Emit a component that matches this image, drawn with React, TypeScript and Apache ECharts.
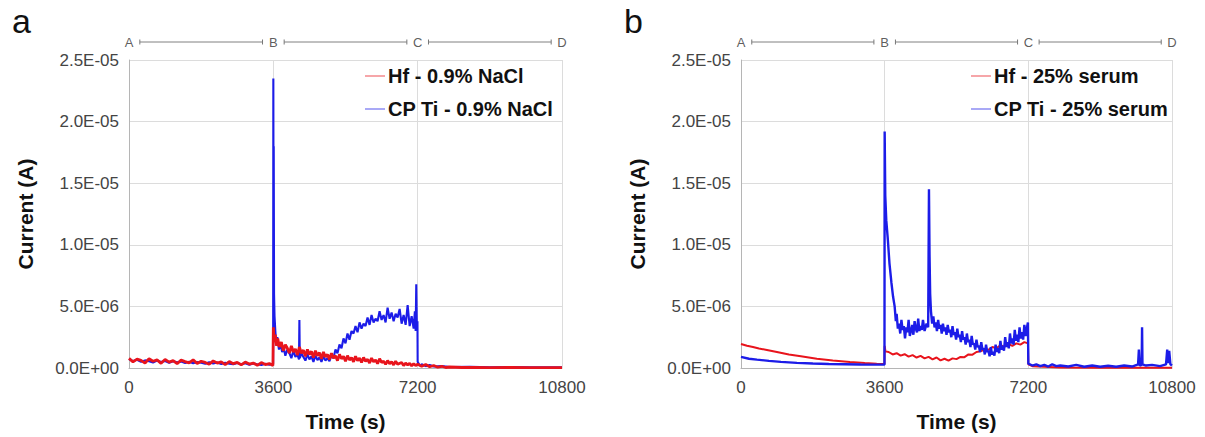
import React, { useEffect, useRef } from "react";
import * as echarts from "echarts";

// ---------- data (current in µA, time in s) ----------
const X_TICK_LABELS = ["0", "3600", "7200", "10800"];
const Y_TICK_LABELS = ["0.0E+00", "5.0E-06", "1.0E-05", "1.5E-05", "2.0E-05", "2.5E-05"];
const STEP_LABELS = ["A", "B", "C", "D"];
const STEP_TIMES = [0, 3600, 7200, 10800];
const STEP_SEGMENTS: [number, number][] = [[270, 3330], [3870, 6930], [7470, 10530]];

const NAMES_A = ["Hf - 0.9% NaCl", "CP Ti - 0.9% NaCl"];
const NAMES_B = ["Hf - 25% serum", "CP Ti - 25% serum"];

const HF_NACL: [number, number][] = [
  [0,0.78],[100,0.5],[200,0.72],[300,0.62],[400,0.4],[500,0.75],[600,0.55],[700,0.66],[800,0.38],[900,0.7],
  [1000,0.48],[1100,0.6],[1200,0.35],[1300,0.64],[1400,0.52],[1500,0.42],[1600,0.66],[1700,0.36],[1800,0.55],
  [1900,0.45],[2000,0.3],[2100,0.58],[2200,0.4],[2300,0.5],[2400,0.28],[2500,0.52],[2600,0.35],[2700,0.45],
  [2800,0.25],[2900,0.48],[3000,0.32],[3100,0.4],[3200,0.22],[3300,0.44],[3400,0.28],[3500,0.36],[3590,0.2],
  [3600,3.3],[3620,2.1],[3650,2.7],[3680,1.8],[3710,2.4],[3750,1.7],[3800,2.1],[3850,1.4],[3900,1.9],[3950,1.6],
  [4000,1.2],[4050,1.8],[4100,1.3],[4150,1.55],[4200,1.05],[4250,1.7],[4300,1.2],[4350,1.45],[4400,0.95],[4450,1.5],
  [4500,1.1],[4550,1.35],[4600,0.85],[4650,1.4],[4700,1.0],[4750,1.25],[4800,0.75],[4850,1.3],[4900,0.9],[4950,1.1],
  [5000,0.7],[5050,1.2],[5100,0.8],[5150,1.0],[5200,0.6],[5250,1.1],[5300,0.75],[5350,0.95],[5400,0.55],[5450,1.0],
  [5500,0.65],[5550,0.85],[5600,0.5],[5650,0.95],[5700,0.6],[5750,0.8],[5800,0.45],[5850,0.85],[5900,0.55],[5950,0.7],
  [6000,0.4],[6050,0.8],[6100,0.5],[6150,0.65],[6200,0.35],[6250,0.75],[6300,0.45],[6350,0.55],[6400,0.3],[6450,0.6],
  [6500,0.35],[6550,0.5],[6600,0.25],[6650,0.55],[6700,0.3],[6800,0.45],[6850,0.2],[6900,0.4],[6950,0.25],[7000,0.38],
  [7050,0.18],[7100,0.35],[7150,0.2],[7200,0.3],[7300,0.14],[7400,0.28],[7500,0.1],[7600,0.2],[7700,0.06],[7800,0.14],
  [7900,0.04],[8000,0.08],[8300,0.04],[8600,0.05],[9000,0.03],[9500,0.04],[10000,0.03],[10800,0.03]
];

const TI_NACL: [number, number][] = [
  [0,0.72],[100,0.56],[200,0.66],[300,0.5],[400,0.62],[500,0.55],[600,0.45],[700,0.6],[800,0.48],[900,0.56],
  [1000,0.42],[1100,0.55],[1200,0.46],[1300,0.52],[1400,0.4],[1500,0.5],[1600,0.38],[1700,0.48],[1800,0.42],
  [1900,0.35],[2000,0.47],[2100,0.36],[2200,0.44],[2300,0.32],[2400,0.42],[2500,0.35],[2600,0.3],[2700,0.41],
  [2800,0.31],[2900,0.38],[3000,0.27],[3100,0.37],[3200,0.3],[3300,0.25],[3400,0.35],[3500,0.26],[3595,0.35],
  [3600,23.5],[3605,12],[3610,18],[3618,6],[3630,4.2],[3650,3.0],[3670,2.1],[3700,2.5],[3740,1.5],[3780,1.9],
  [3820,1.3],[3860,1.6],[3900,1.0],[3950,1.5],[4000,1.2],[4050,0.8],[4100,1.4],[4150,0.9],[4200,1.1],[4240,0.7],
  [4250,3.9],[4260,0.8],[4300,1.2],[4350,0.9],[4400,0.6],[4450,1.1],[4500,0.7],[4550,0.95],[4600,0.5],[4650,1.0],
  [4700,0.65],[4750,0.85],[4800,0.5],[4850,0.95],[4900,0.6],[4950,0.8],[5000,0.55],[5050,1.0],
  [5100,0.8],[5150,1.5],[5200,1.2],[5250,1.9],[5300,1.6],[5350,2.4],[5400,2.0],[5450,2.8],[5500,2.3],[5550,3.0],
  [5600,2.8],[5650,3.4],[5700,2.9],[5750,3.7],[5800,3.2],[5850,3.6],[5900,3.4],[5950,4.1],[6000,3.5],[6050,4.3],
  [6100,3.7],[6150,4.0],[6200,3.8],[6250,4.6],[6300,3.9],[6350,4.3],[6400,3.7],[6450,4.9],[6500,4.0],[6550,4.5],
  [6600,3.8],[6650,4.4],[6700,4.1],[6750,4.8],[6800,3.6],[6850,4.3],[6900,3.5],[6950,5.1],[7000,3.4],[7050,4.2],
  [7100,3.2],[7130,4.6],[7150,3.0],[7165,6.8],[7180,3.2],[7195,3.8],[7200,0.5],[7250,0.2],[7300,0.3],[7400,0.15],
  [7500,0.25],[7600,0.12],[7800,0.15],[8000,0.08],[8500,0.1],[9000,0.06],[9500,0.08],[10000,0.05],[10800,0.06]
];

const HF_SERUM: [number, number][] = [
  [0,1.95],[150,1.8],[300,1.7],[450,1.58],[650,1.46],[900,1.3],[1200,1.1],[1500,0.95],[1900,0.75],[2300,0.6],
  [2730,0.48],[3100,0.4],[3400,0.35],[3595,0.33],[3600,1.8],[3620,1.35],
  [3700,1.3],[3800,1.1],[3900,1.2],[4000,1.0],[4100,1.12],[4200,0.92],[4300,1.05],[4400,0.85],[4500,0.98],
  [4600,0.78],[4700,0.9],[4800,0.7],[4900,0.85],[5000,0.62],[5100,0.75],[5200,0.6],[5300,0.78],[5400,0.72],
  [5500,0.9],[5600,0.88],[5700,1.1],[5800,1.08],[5900,1.3],[6000,1.35],[6100,1.5],[6200,1.48],[6300,1.7],
  [6400,1.6],[6500,1.85],[6600,1.72],[6700,1.95],[6800,1.8],[6900,2.0],[7000,1.9],[7100,2.1],[7190,2.0],
  [7200,0.3],[7300,0.15],[7600,0.1],[8000,0.05],[9000,0.02],[10000,0.02],[10800,0.02]
];

const TI_SERUM: [number, number][] = [
  [0,0.9],[200,0.75],[400,0.68],[700,0.58],[1000,0.5],[1400,0.42],[1800,0.36],[2200,0.32],[2600,0.3],[3000,0.28],
  [3400,0.27],[3595,0.27],
  [3600,19.2],[3615,14],[3640,12],[3680,10.4],[3720,8.5],[3770,6.9],[3810,5.8],[3850,5.0],[3880,3.8],[3900,4.4],
  [3930,3.2],[3960,3.6],[3990,2.8],[4020,3.9],[4050,3.1],[4080,3.4],[4110,2.4],[4140,3.3],[4170,2.9],[4200,3.9],
  [4230,2.6],[4260,3.0],[4290,3.5],[4320,2.7],[4350,3.8],[4380,3.2],[4410,2.9],[4440,4.0],[4470,3.0],[4500,3.4],
  [4530,3.1],[4560,3.9],[4600,3.0],[4650,3.6],[4690,3.3],[4710,14.5],[4725,9],[4740,6],[4760,4.6],[4790,3.6],
  [4820,4.2],[4850,3.3],[4880,3.7],[4910,3.0],[4940,3.9],[4970,3.2],[5000,3.5],[5030,2.8],[5060,3.6],[5090,3.0],
  [5120,3.3],[5150,2.7],[5180,3.5],[5210,2.9],[5240,3.1],[5270,2.5],[5300,3.4],[5330,2.7],[5360,2.9],[5390,2.3],
  [5420,3.2],[5450,2.5],[5480,2.7],[5510,2.1],[5540,3.0],[5570,2.3],[5600,2.5],[5630,1.9],[5660,2.8],[5690,2.1],
  [5720,2.3],[5750,1.7],[5780,2.6],[5810,1.9],[5840,2.0],[5870,1.5],[5900,2.3],[5930,1.7],[5960,1.8],[5990,1.3],
  [6020,2.1],[6050,1.5],[6080,1.6],[6110,1.1],[6140,1.9],[6170,1.3],[6200,1.4],[6230,0.95],[6260,1.7],[6290,1.1],
  [6320,1.3],[6350,1.0],[6380,1.9],[6410,1.3],[6440,1.6],[6470,1.2],[6500,2.2],[6530,1.5],[6560,1.8],[6590,1.4],
  [6620,2.5],[6650,1.7],[6680,2.1],[6710,1.6],[6740,2.8],[6770,2.0],[6800,2.4],[6830,1.9],[6860,3.1],[6890,2.2],
  [6920,2.7],[6950,2.1],[6980,3.3],[7010,2.4],[7040,2.9],[7070,2.3],[7100,3.5],[7130,2.6],[7160,3.2],[7190,3.7],
  [7200,0.35],[7300,0.2],[7400,0.3],[7500,0.15],[7600,0.25],[7700,0.12],[7800,0.3],[7900,0.15],[8000,0.2],
  [8200,0.12],[8400,0.25],[8600,0.1],[8800,0.2],[9000,0.1],[9200,0.18],[9400,0.1],[9600,0.2],[9800,0.12],
  [9950,0.3],[9970,1.5],[9990,0.2],[10040,0.25],[10050,3.3],[10060,0.3],[10150,0.2],[10300,0.25],[10500,0.15],
  [10650,0.3],[10680,1.5],[10700,0.4],[10730,1.4],[10760,0.3],[10800,0.2]
];

// ---------- styling ----------
const FONT = "'Liberation Sans', Arial, sans-serif";
const RED = "#e8141c";
const BLUE = "#1c1ce8";
const GRID_COLOR = "#dcdcdc";
const PANELS = [
  { left: 129, width: 433, legendLeft: 365, letterX: 12, letter: "a", names: NAMES_A, hf: HF_NACL, ti: TI_NACL, redTop: true, redW: 2.8, blueW: 2.1 },
  { left: 741, width: 431, legendLeft: 971, letterX: 624, letter: "b", names: NAMES_B, hf: HF_SERUM, ti: TI_SERUM, redTop: false, redW: 2.0, blueW: 2.4 },
];

function buildOption() {
  const grid: any[] = [];
  const xAxis: any[] = [];
  const yAxis: any[] = [];
  const series: any[] = [];
  const legend: any[] = [];
  const graphic: any[] = [];

  PANELS.forEach((p, i) => {
    grid.push({ left: p.left, top: 60, width: p.width, height: 308 });
    xAxis.push({
      type: "value", gridIndex: 2 * i, min: 0, max: 10800, interval: 3600,
      name: "Time (s)", nameLocation: "middle", nameGap: 43,
      nameTextStyle: { fontFamily: FONT, fontSize: 21, fontWeight: "bold", color: "#111" },
      axisLine: { show: true, lineStyle: { color: "#b5b5b5" } },
      axisTick: { show: false },
      axisLabel: {
        fontFamily: FONT, fontSize: 17, color: "#444", margin: 11,
        formatter: (v: number) => X_TICK_LABELS[Math.round(v / 3600)] ?? "",
      },
      splitLine: { show: true, lineStyle: { color: GRID_COLOR, width: 1 } },
    });
    yAxis.push({
      type: "value", gridIndex: 2 * i, min: 0, max: 25, interval: 5,
      name: "Current (A)", nameLocation: "middle", nameGap: 93,
      nameTextStyle: { fontFamily: FONT, fontSize: 21, fontWeight: "bold", color: "#111" },
      axisLine: { show: true, lineStyle: { color: "#b5b5b5" } },
      axisTick: { show: false },
      axisLabel: {
        fontFamily: FONT, fontSize: 17, color: "#444", margin: 10,
        formatter: (v: number) => Y_TICK_LABELS[Math.round(v / 5)] ?? "",
      },
      splitLine: { show: true, lineStyle: { color: GRID_COLOR, width: 1 } },
    });
    grid.push({ left: p.left, top: 37, width: p.width, height: 10 });
    xAxis.push({ type: "value", gridIndex: 2 * i + 1, min: 0, max: 10800, show: false });
    yAxis.push({ type: "value", gridIndex: 2 * i + 1, min: 0, max: 1, show: false });

    series.push({
      name: p.names[0], type: "line", xAxisIndex: 2 * i, yAxisIndex: 2 * i,
      data: p.hf, symbol: "none", lineStyle: { color: RED, width: p.redW, join: "bevel" }, itemStyle: { color: RED },
      z: p.redTop ? 4 : 2, silent: true,
    });
    series.push({
      name: p.names[1], type: "line", xAxisIndex: 2 * i, yAxisIndex: 2 * i,
      data: p.ti, symbol: "none", lineStyle: { color: BLUE, width: p.blueW, join: "bevel" }, itemStyle: { color: BLUE },
      z: 3, silent: true,
    });
    STEP_SEGMENTS.forEach((seg) => {
      series.push({
        type: "line", xAxisIndex: 2 * i + 1, yAxisIndex: 2 * i + 1,
        data: [[seg[0], 0.5], [seg[1], 0.5]],
        symbol: "rect", symbolSize: [1, 5], showSymbol: true,
        itemStyle: { color: "#777" }, lineStyle: { color: "#808080", width: 1 }, silent: true,
      });
    });
    series.push({
      type: "scatter", xAxisIndex: 2 * i + 1, yAxisIndex: 2 * i + 1,
      data: STEP_TIMES.map((t, k) => ({ value: [t, 0.5], name: STEP_LABELS[k] })),
      symbolSize: 1, itemStyle: { color: "rgba(0,0,0,0)" }, silent: true,
      label: {
        show: true, position: "inside", formatter: (d: any) => d.name,
        fontFamily: FONT, fontSize: 13, color: "#333",
      },
    });

    legend.push({
      data: p.names, left: p.legendLeft, top: 66, orient: "vertical", itemGap: 13,
      icon: "rect", itemWidth: 20, itemHeight: 1.5, padding: 0, selectedMode: false,
      itemStyle: { opacity: 0.5 },
      textStyle: { fontFamily: FONT, fontSize: 20, fontWeight: "bold", color: "#111", padding: [0, 0, 0, -2] },
    });

    graphic.push({
      type: "text", x: p.letterX, y: 21,
      style: { text: p.letter, fontFamily: FONT, fontSize: 34, fill: "#111", verticalAlign: "middle" },
    });
  });

  return { animation: false, backgroundColor: "#ffffff", grid, xAxis, yAxis, series, legend, graphic };
}

export default function App() {
  const ref = useRef<HTMLDivElement>(null);
  useEffect(() => {
    document.body.style.margin = "0";
    if (!ref.current) return;
    const chart = echarts.init(ref.current, undefined, { renderer: "svg" });
    chart.setOption(buildOption() as any);
    return () => chart.dispose();
  }, []);
  return <div ref={ref} style={{ width: 1205, height: 437 }} />;
}
